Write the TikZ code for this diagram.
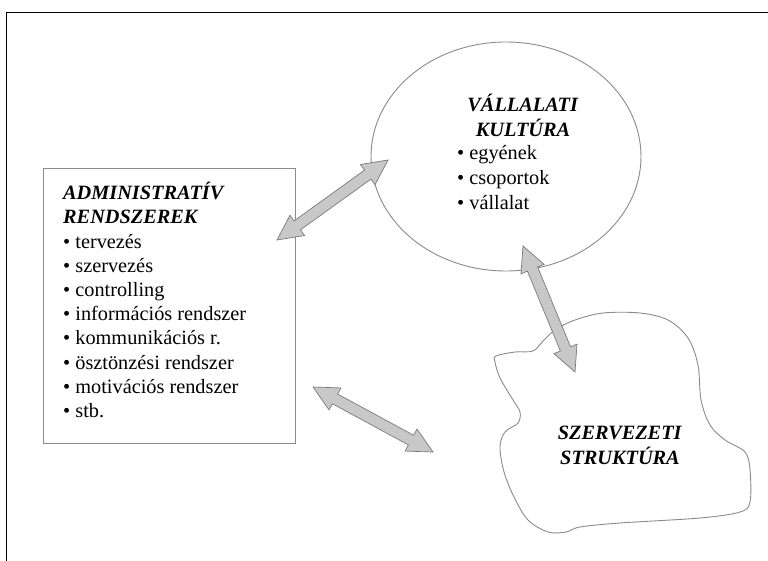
\documentclass[tikz,border=0pt]{standalone}
\usepackage{fontspec}
\setmainfont{Liberation Serif}
\usetikzlibrary{calc,shapes.geometric}
\definecolor{shapeline}{HTML}{8A8A8A}
\definecolor{arrfill}{HTML}{C8C8C8}
\definecolor{arrline}{HTML}{7A7A7A}
\newcommand{\dblarr}[3]{%
  \coordinate (#3h1) at ($(#1)!25pt!(#2)$);
  \coordinate (#3h2) at ($(#2)!25pt!(#1)$);
  \filldraw[arrowsty] (#1)
    -- ($(#3h1)!12.5pt!90:(#2)$) -- ($(#3h1)!5.5pt!90:(#2)$)
    -- ($(#3h2)!5.5pt!-90:(#1)$) -- ($(#3h2)!12.5pt!-90:(#1)$)
    -- (#2)
    -- ($(#3h2)!12.5pt!90:(#1)$) -- ($(#3h2)!5.5pt!90:(#1)$)
    -- ($(#3h1)!5.5pt!-90:(#2)$) -- ($(#3h1)!12.5pt!-90:(#2)$) -- cycle;
}
\begin{document}
\begin{tikzpicture}[x=1pt,y=-1pt,
  txt/.style={font=\fontsize{20.3}{24.2}\selectfont, inner sep=0pt, align=left},
  txtb/.style={font=\fontsize{20.3}{25}\selectfont, inner sep=0pt},
  shapesty/.style={draw=shapeline, line width=0.9pt},
  arrowsty/.style={fill=arrfill, draw=arrline, line width=0.7pt, line join=miter}]
\useasboundingbox (0,0) rectangle (768,561);
% frame
\draw[black, line width=1pt] (6,561) -- (6,13) -- (768,13);
% left box
\node[shapesty, rectangle, minimum width=252pt, minimum height=275pt, anchor=north west, inner sep=0pt] (adm) at (43,168) {};
\node[txt, anchor=base west] (admtxt) at (63,417.4) {\textbf{\textit{ADMINISTRATÍV}}\\\textbf{\textit{RENDSZEREK}}\\• tervezés\\• szervezés\\• controlling\\• információs rendszer\\• kommunikációs r.\\• ösztönzési rendszer\\• motivációs rendszer\\• stb.};
% ellipse
\node[shapesty, ellipse, minimum width=270pt, minimum height=229pt, inner sep=0pt] (kult) at (506,156.5) {};
\node[txtb, align=center, anchor=base] (kulth) at (523,136.6) {\textbf{\textit{VÁLLALATI}}\\\textbf{\textit{KULTÚRA}}};
\node[txtb, align=left, anchor=base west] (kultb) at (457,209.6) {• egyének\\• csoportok\\• vállalat};
% cloud
\draw[shapesty] plot[smooth cycle, tension=0.55] coordinates {
 (496,356) (515,352) (533,351) (543,341) (555,330) (575,320) (603,313) (640,313)
 (668,320) (688,338) (698,365) (701,400) (710,425) (725,440) (745,452) (750,470)
 (750,502) (740,512) (700,518) (620,523) (580,527) (566,532) (548,532) (528,520)
 (514,497) (504,472) (500,447) (505,432) (518,423) (520,412) (513,400) (500,378) (495,362)};
\node[txtb, align=center, anchor=base] (szerv) at (620,464.6) {\textbf{\textit{SZERVEZETI}}\\\textbf{\textit{STRUKTÚRA}}};
% arrows
\coordinate (a1s) at (277,240); \coordinate (a1e) at (388,160);
\coordinate (a2s) at (523,246); \coordinate (a2e) at (575,372);
\coordinate (a3s) at (313,387); \coordinate (a3e) at (433,452);
\dblarr{a1s}{a1e}{p}
\dblarr{a2s}{a2e}{q}
\dblarr{a3s}{a3e}{r}
\end{tikzpicture}
\end{document}
